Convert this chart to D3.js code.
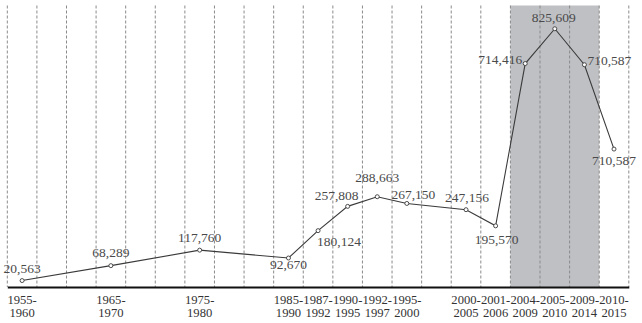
<!DOCTYPE html>
<html>
<head>
<meta charset="utf-8">
<script src="https://cdn.jsdelivr.net/npm/d3@7"></script>
<style>
  body { margin: 0; background: #fff; }
  text { font-family: "Liberation Serif", serif; }
</style>
</head>
<body>
<div id="chart"></div>
<script>
// 21 slots along the x axis, some left empty as in the original
const periods = ["1955-1960", null, null, "1965-1970", null, null, "1975-1980", null, null,
  "1985-1990", "1987-1992", "1990-1995", "1992-1997", "1995-2000", null,
  "2000-2005", "2001-2006", "2004-2009", "2005-2010", "2009-2014", "2010-2015"];
const values = [20563, null, null, 68289, null, null, 117760, null, null,
  92670, 180124, 257808, 288663, 267150, null,
  247156, 195570, 714416, 825609, 710587, 441000];
// printed labels (the last one is printed as in the source)
const valueLabels = ["20,563", null, null, "68,289", null, null, "117,760", null, null,
  "92,670", "180,124", "257,808", "288,663", "267,150", null,
  "247,156", "195,570", "714,416", "825,609", "710,587", "710,587"];
const shaded = ["2004-2009", "2009-2014"];

const width = 642;
const height = 323;

const svg = d3.select("#chart").append("svg")
    .attr("width", width)
    .attr("height", height);

const x = d3.scaleBand()
    .domain(d3.range(periods.length))
    .range([7.3, 628.8])
    .padding(0);
const bw = x.bandwidth();
const cx = i => x(i) + bw / 2;

const y = d3.scaleLinear()
    .domain([0, 900000])
    .range([287, 5.5]);

// grey highlight band
const s0 = periods.indexOf(shaded[0]);
const s1 = periods.indexOf(shaded[1]);
svg.append("rect")
    .attr("x", x(s0))
    .attr("y", y(900000))
    .attr("width", x(s1) + bw - x(s0))
    .attr("height", y(0) - y(900000))
    .attr("fill", "#bfc0c4");

// dashed vertical lines on slot borders
const borders = d3.range(periods.length).map(i => x(i)).concat([x.range()[1]]);
svg.selectAll(".grid")
    .data(borders)
    .enter()
    .append("line")
    .attr("class", "grid")
    .attr("x1", d => d)
    .attr("x2", d => d)
    .attr("y1", y(900000))
    .attr("y2", y(0))
    .attr("stroke", "#8a8a8a")
    .attr("stroke-width", 1)
    .attr("stroke-dasharray", "3,2");

// x axis
const tickIdx = d3.range(periods.length).filter(i => periods[i] !== null);
const xAxis = d3.axisBottom(x)
    .tickValues(tickIdx)
    .tickSize(0)
    .tickSizeOuter(0)
    .tickFormat(i => periods[i]);

const gx = svg.append("g")
    .attr("transform", "translate(0," + y(0) + ")")
    .call(xAxis);
gx.select(".domain").attr("stroke", "#111").attr("stroke-width", 2);
gx.selectAll(".tick text").each(function (i) {
  const parts = periods[i].split("-");
  const t = d3.select(this).text(null)
      .attr("y", null)
      .attr("dy", null)
      .attr("font-size", "12.6px")
      .attr("font-family", "Liberation Serif, serif")
      .attr("fill", "#333");
  t.append("tspan").attr("x", 0).attr("y", 16.5).text(parts[0] + "-");
  t.append("tspan").attr("x", 0).attr("y", 29.5).text(parts[1]);
});

// line
const pts = d3.range(values.length).filter(i => values[i] !== null);
const line = d3.line()
    .x(i => cx(i))
    .y(i => y(values[i]));

svg.append("path")
    .datum(pts)
    .attr("d", line)
    .attr("fill", "none")
    .attr("stroke", "#3a3a3a")
    .attr("stroke-width", 1.1);

svg.selectAll(".dot")
    .data(pts)
    .enter()
    .append("circle")
    .attr("class", "dot")
    .attr("cx", i => cx(i))
    .attr("cy", i => y(values[i]))
    .attr("r", 2)
    .attr("fill", "#fff")
    .attr("stroke", "#3a3a3a")
    .attr("stroke-width", 0.9);

// label placement: [dx, dy, anchor]
const place = {
  0: [0, -8, "middle"], 3: [0, -8.5, "middle"], 6: [0, -8, "middle"],
  9: [0, 10.5, "middle"], 10: [21, 15, "middle"], 11: [-11, -6.5, "middle"],
  12: [0, -15, "middle"], 13: [6.5, -4.5, "middle"], 15: [1, -7.5, "middle"],
  16: [1, 18, "middle"], 17: [-3, 0, "end"], 18: [-1, -6.5, "middle"],
  19: [3, 0.5, "start"], 20: [0, 16, "middle"]
};

svg.selectAll(".lbl")
    .data(pts)
    .enter()
    .append("text")
    .attr("class", "lbl")
    .attr("x", i => cx(i) + place[i][0])
    .attr("y", i => y(values[i]) + place[i][1])
    .attr("text-anchor", i => place[i][2])
    .attr("font-size", "13.5px")
    .attr("fill", "#4a4a4a")
    .text(i => valueLabels[i]);
</script>
</body>
</html>
